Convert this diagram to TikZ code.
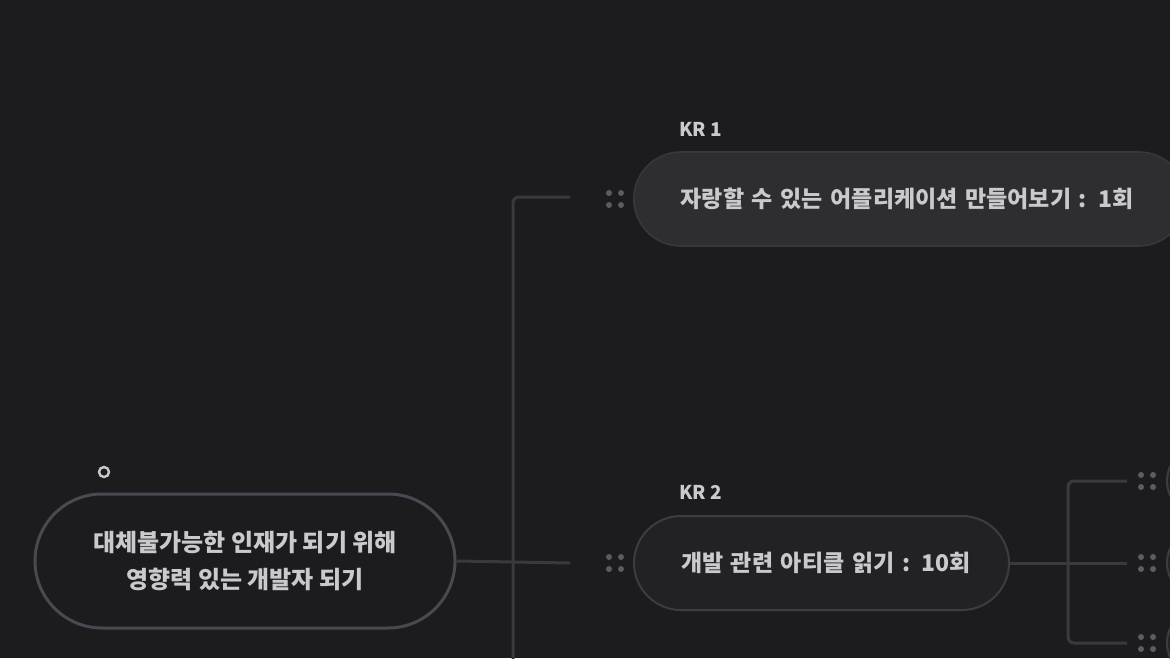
\documentclass[tikz,border=0pt]{standalone}
\usepackage{fontspec}
\setmainfont{Noto Sans CJK KR}
\definecolor{bg}{HTML}{1C1C1F}
\definecolor{wire}{HTML}{3A3A3E}
\definecolor{rootborder}{HTML}{4A4952}
\definecolor{krfill}{HTML}{2E2E32}
\definecolor{krborder}{HTML}{38383C}
\definecolor{kr2fill}{HTML}{222225}
\definecolor{kr2border}{HTML}{3C3C41}
\definecolor{txt}{HTML}{CACACD}
\definecolor{dotc}{HTML}{5C5C62}
\newcommand\dragdots[2]{%
  \fill[dotc] (#1-6,#2-6) circle (1.5pt) (#1+6,#2-6) circle (1.5pt)
              (#1-6,#2+6) circle (1.5pt) (#1+6,#2+6) circle (1.5pt);}
\begin{document}
\begin{tikzpicture}[x=0.5pt,y=-0.5pt,
  wirel/.style={draw=wire,line width=1.5pt,rounded corners=3pt},
  rootbox/.style={draw=rootborder,line width=1.5pt,fill=bg,rounded corners=33.5pt,
    minimum width=210pt,minimum height=67pt,text=txt,
    font=\bfseries\fontsize{12}{18.5}\selectfont,align=center,inner sep=0pt},
  kronebox/.style={draw=krborder,line width=0.8pt,fill=krfill,rounded corners=23.5pt,
    minimum height=47pt,inner xsep=23.5pt,inner ysep=0pt,align=left,
    text=txt,font=\bfseries\fontsize{11.5}{13}\selectfont},
  krtwobox/.style={draw=kr2border,line width=1pt,fill=kr2fill,rounded corners=23.5pt,
    minimum height=47pt,inner xsep=23.5pt,inner ysep=0pt,align=left,
    text=txt,font=\bfseries\fontsize{11.5}{13}\selectfont},
  stubbox/.style={draw=kr2border,line width=1pt,fill=kr2fill,rounded corners=17.5pt,
    minimum height=35pt,minimum width=100pt,inner sep=0pt},
  krlabel/.style={text=txt,font=\bfseries\fontsize{9.5}{10}\selectfont,inner sep=0pt}
]
\fill[bg] (0,0) rectangle (1170,658);
\useasboundingbox (0,0) rectangle (1170,658);

% root
\node[draw=txt,circle,line width=1.2pt,minimum size=5pt,inner sep=0pt] (marker) at (104,472) {};
\node[rootbox] (root) at (245,561) {\raisebox{-4pt}{대체불가능한 인재가 되기 위해}\\\raisebox{-4pt}{영향력 있는 개발자 되기}};

% KR1
\node[krlabel,anchor=west] (kronelabel) at (679,129) {KR 1};
\node[kronebox,anchor=west,text width=229pt] (krone) at (633,199)
  {\mbox{자랑할 수 있는 어플리케이션 만들어보기 : 1회}};

% KR2
\node[krlabel,anchor=west] (krtwolabel) at (679,492) {KR 2};
\node[krtwobox,anchor=west,text width=140.5pt] (krtwo) at (633,563)
  {\mbox{개발 관련 아티클 읽기 : 10회}};

% stubs on right edge
\node[stubbox,anchor=west] (subone) at (1166,481) {};
\node[stubbox,anchor=west] (subtwo) at (1166,563) {};
\node[stubbox,anchor=west] (subthree) at (1166,643) {};

% wires left
\coordinate (hone) at (570,197);
\coordinate (htwo) at (570,563);
\coordinate (jbot) at (513,662);
\draw[wirel] (root.east) -- (htwo);
\draw[wirel] (hone) -| (jbot);

% wires right
\coordinate (rone) at (1127,481);
\coordinate (rtwo) at (1127,563);
\coordinate (rthree) at (1127,643);
\coordinate (rcorner) at (1068,643);
\draw[wirel] (krtwo.east) -- (rtwo);
\draw[wirel] (rone) -| (rcorner) -- (rthree);

% drag handles
\dragdots{615}{199}
\dragdots{615}{563}
\dragdots{1147}{481}
\dragdots{1147}{563}
\dragdots{1147}{643}
\end{tikzpicture}
\end{document}
